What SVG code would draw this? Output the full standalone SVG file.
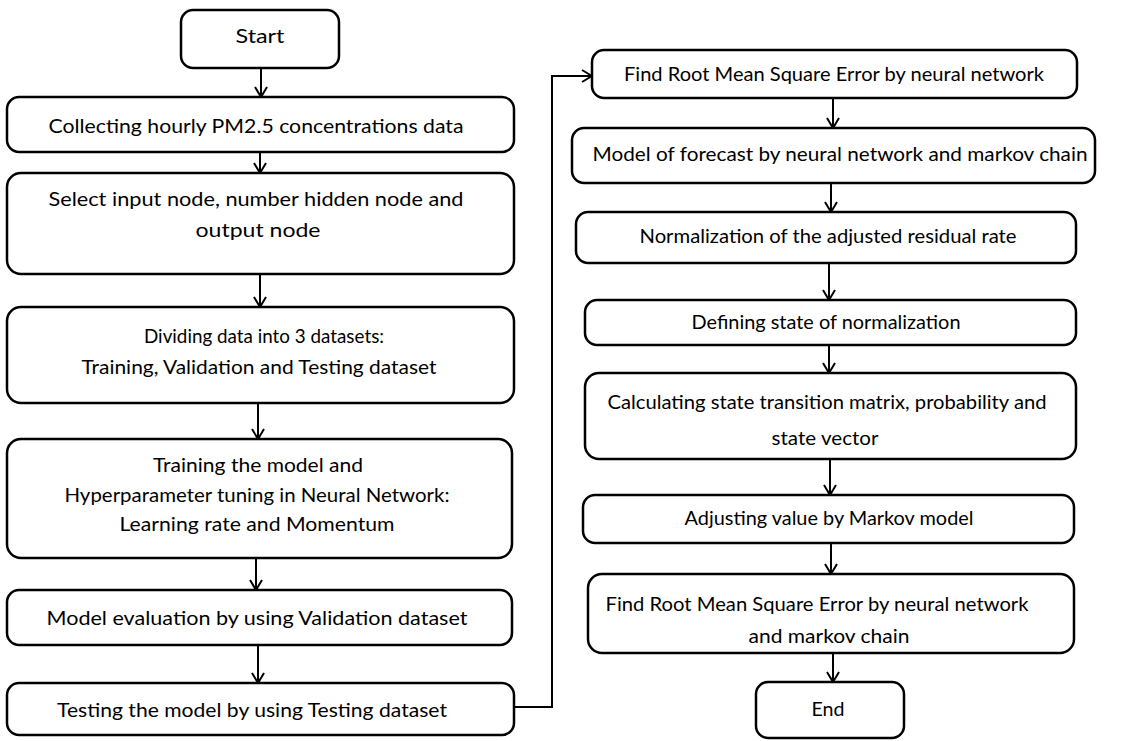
<svg xmlns="http://www.w3.org/2000/svg" width="1128" height="741" viewBox="0 0 1128 741">
<defs>
<style>
.box{fill:#fff;stroke:#000;stroke-width:2.5}
.t{font-family:Lato,"Open Sans","Liberation Sans",sans-serif;font-size:19px;fill:#000;text-anchor:middle}
.c{fill:none;stroke:#000;stroke-width:2}
</style>
<marker id="ah" viewBox="0 0 12 14" refX="11" refY="7" markerWidth="12" markerHeight="14" markerUnits="userSpaceOnUse" orient="auto">
<path d="M1,1 L11,7 L1,13" fill="none" stroke="#000" stroke-width="2"/>
</marker>
</defs>
<rect width="1128" height="741" fill="#fff"/>
<g id="connectors">
<line class="c" x1="261" y1="68" x2="261" y2="97" marker-end="url(#ah)"/>
<line class="c" x1="260" y1="152" x2="260" y2="173" marker-end="url(#ah)"/>
<line class="c" x1="260" y1="274" x2="260" y2="307" marker-end="url(#ah)"/>
<line class="c" x1="258" y1="403" x2="258" y2="439" marker-end="url(#ah)"/>
<line class="c" x1="256" y1="558" x2="256" y2="590" marker-end="url(#ah)"/>
<line class="c" x1="258" y1="645" x2="258" y2="683" marker-end="url(#ah)"/>
<polyline class="c" points="514,707 552,707 552,76 592,76" marker-end="url(#ah)"/>
<line class="c" x1="833" y1="98" x2="833" y2="128" marker-end="url(#ah)"/>
<line class="c" x1="831" y1="183" x2="831" y2="212" marker-end="url(#ah)"/>
<line class="c" x1="829" y1="263" x2="829" y2="300" marker-end="url(#ah)"/>
<line class="c" x1="829" y1="345" x2="829" y2="373" marker-end="url(#ah)"/>
<line class="c" x1="830" y1="459" x2="830" y2="495" marker-end="url(#ah)"/>
<line class="c" x1="831" y1="543" x2="831" y2="574" marker-end="url(#ah)"/>
<line class="c" x1="833" y1="653" x2="833" y2="682" marker-end="url(#ah)"/>
</g>
<g id="start">
<rect class="box" x="181" y="10" width="158" height="58" rx="12"/>
<text class="t" x="260" y="43" textLength="49" lengthAdjust="spacingAndGlyphs">Start</text>
</g>
<g id="collect">
<rect class="box" x="7" y="97" width="507" height="55" rx="12"/>
<text class="t" x="256" y="133" textLength="415" lengthAdjust="spacingAndGlyphs">Collecting hourly PM2.5 concentrations data</text>
</g>
<g id="select">
<rect class="box" x="7" y="173" width="507" height="101" rx="14"/>
<text class="t" x="256" y="206" textLength="415" lengthAdjust="spacingAndGlyphs">Select input node, number hidden node and</text>
<text class="t" x="258" y="237" textLength="125" lengthAdjust="spacingAndGlyphs">output node</text>
</g>
<g id="divide">
<rect class="box" x="7" y="307" width="507" height="96" rx="14"/>
<text class="t" x="264" y="343" textLength="240" lengthAdjust="spacingAndGlyphs">Dividing data into 3 datasets:</text>
<text class="t" x="259" y="374" textLength="355" lengthAdjust="spacingAndGlyphs">Training, Validation and Testing dataset</text>
</g>
<g id="train">
<rect class="box" x="7" y="439" width="505" height="119" rx="14"/>
<text class="t" x="258" y="472" textLength="210" lengthAdjust="spacingAndGlyphs">Training the model and</text>
<text class="t" x="257" y="502" textLength="385" lengthAdjust="spacingAndGlyphs">Hyperparameter tuning in Neural Network:</text>
<text class="t" x="257" y="531" textLength="275" lengthAdjust="spacingAndGlyphs">Learning rate and Momentum</text>
</g>
<g id="evaluate">
<rect class="box" x="7" y="590" width="505" height="55" rx="12"/>
<text class="t" x="257" y="625" textLength="421" lengthAdjust="spacingAndGlyphs">Model evaluation by using Validation dataset</text>
</g>
<g id="test">
<rect class="box" x="7" y="683" width="507" height="52" rx="12"/>
<text class="t" x="252" y="717" textLength="390" lengthAdjust="spacingAndGlyphs">Testing the model by using Testing dataset</text>
</g>
<g id="rmse_nn">
<rect class="box" x="592" y="50" width="485" height="48" rx="12"/>
<text class="t" x="834" y="81" textLength="420" lengthAdjust="spacingAndGlyphs">Find Root Mean Square Error by neural network</text>
</g>
<g id="forecast">
<rect class="box" x="572" y="128" width="523" height="55" rx="12"/>
<text class="t" x="840" y="161" textLength="495" lengthAdjust="spacingAndGlyphs">Model of forecast by neural network and markov chain</text>
</g>
<g id="normalize">
<rect class="box" x="576" y="212" width="500" height="51" rx="12"/>
<text class="t" x="828" y="243" textLength="377" lengthAdjust="spacingAndGlyphs">Normalization of the adjusted residual rate</text>
</g>
<g id="define">
<rect class="box" x="585" y="300" width="491" height="45" rx="12"/>
<text class="t" x="826" y="329" textLength="269" lengthAdjust="spacingAndGlyphs">Defining state of normalization</text>
</g>
<g id="calculate">
<rect class="box" x="585" y="373" width="491" height="86" rx="14"/>
<text class="t" x="827" y="409" textLength="439" lengthAdjust="spacingAndGlyphs">Calculating state transition matrix, probability and</text>
<text class="t" x="825" y="445" textLength="107" lengthAdjust="spacingAndGlyphs">state vector</text>
</g>
<g id="adjust">
<rect class="box" x="583" y="495" width="491" height="48" rx="12"/>
<text class="t" x="829" y="525" textLength="289" lengthAdjust="spacingAndGlyphs">Adjusting value by Markov model</text>
</g>
<g id="rmse_nnmc">
<rect class="box" x="588" y="574" width="486" height="79" rx="14"/>
<text class="t" x="817" y="611" textLength="423" lengthAdjust="spacingAndGlyphs">Find Root Mean Square Error by neural network</text>
<text class="t" x="829" y="643" textLength="161" lengthAdjust="spacingAndGlyphs">and markov chain</text>
</g>
<g id="end">
<rect class="box" x="756" y="682" width="148" height="56" rx="12"/>
<text class="t" x="828" y="716" textLength="33" lengthAdjust="spacingAndGlyphs">End</text>
</g>
</svg>
